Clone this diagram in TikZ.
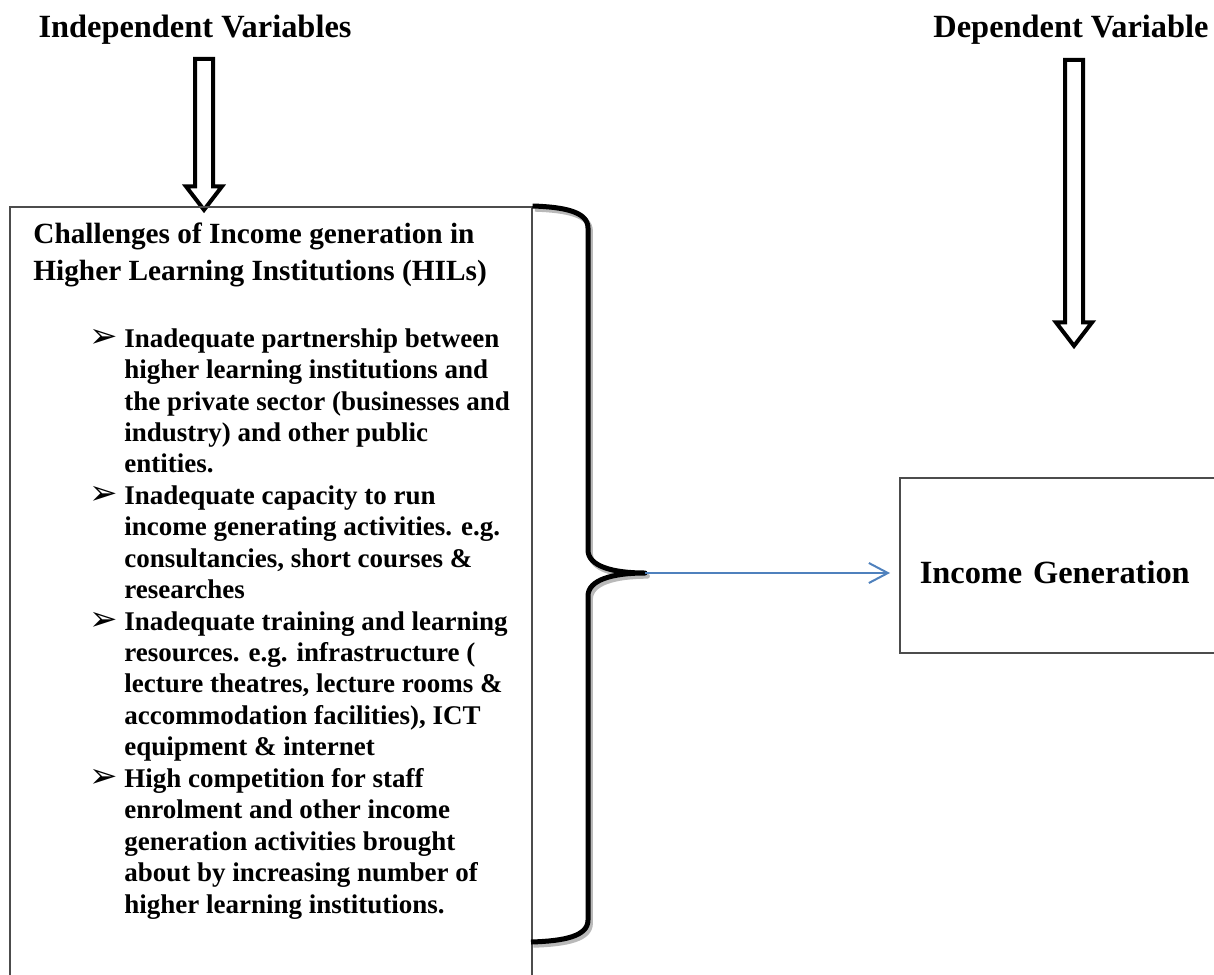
\documentclass[tikz,border=0pt]{standalone}
\usepackage{fontspec}
\setmainfont{Liberation Serif}
\newfontfamily\symfont{DejaVu Sans}
\usetikzlibrary{shapes.arrows,arrows.meta,positioning}
\definecolor{linkblue}{RGB}{79,129,189}
\newcommand{\bul}{\makebox[15.5pt][l]{\hspace*{-2pt}\symfont\fontsize{17}{15.72}\selectfont ➢}}
\newcommand{\ind}{\hspace*{15.5pt}}

\begin{document}
\begin{tikzpicture}[x=0.5pt,y=-0.5pt,
    heading/.style={font=\fontsize{16.2}{19}\selectfont\bfseries, inner sep=0pt},
    bigarrow/.style={single arrow, draw, line width=2pt, rotate=-90, inner xsep=0pt, inner ysep=3.5pt, text height=0pt, text depth=0pt, single arrow head extend=4.5pt, single arrow tip angle=75},
    varbox/.style={draw=black!70, line width=0.75pt, inner sep=0pt},
    boxtext/.style={anchor=north west, inner sep=0pt, align=left},
    brace/.style={line width=2.5pt, line join=round},
    link/.style={draw=linkblue, line width=1pt, -{Straight Barb[length=9.5pt,width=10pt]}}
]
\useasboundingbox (0,0) rectangle (1214,974);
\clip (0,0) rectangle (1214,974);

% Headings
\node[heading, anchor=base] (indep) at (195,38) {Independent Variables};
\node[heading, anchor=base] (dep) at (1071,38) {Dependent Variable};

% Hollow arrows
\node[bigarrow, minimum height=75.5pt] (indeparrow) at (204,128.5) {};
\node[bigarrow, minimum height=143pt] (deparrow) at (1074,197) {};

% Challenges box
\node[varbox, anchor=north west, minimum width=261pt, minimum height=400pt] (chbox) at (9,206) {};
\node[boxtext, font=\fontsize{14.65}{18.5}\selectfont\bfseries] (chtitle) at (33,222)
  {Challenges of Income generation in\\Higher Learning Institutions (HILs)};
\node[boxtext, font=\fontsize{13.5}{15.72}\selectfont\bfseries] (chlist) at (93,328) {%
\bul Inadequate partnership between\\
\ind higher learning institutions and\\
\ind the private sector (businesses and\\
\ind industry) and other public\\
\ind entities.\\
\bul Inadequate capacity to run\\
\ind income generating activities. e.g.\\
\ind consultancies, short courses \&\\
\ind researches\\
\bul Inadequate training and learning\\
\ind resources. e.g. infrastructure (\\
\ind lecture theatres, lecture rooms \&\\
\ind accommodation facilities), ICT\\
\ind equipment \& internet\\
\bul High competition for staff\\
\ind enrolment and other income\\
\ind generation activities brought\\
\ind about by increasing number of\\
\ind higher learning institutions.};

% Income box
\node[varbox, anchor=north west, minimum width=200pt, minimum height=87.5pt, text width=180pt, inner xsep=10pt, align=left, font=\fontsize{16.2}{19}\selectfont\bfseries, text height=18.5pt] (income) at (899,477) {Income Generation};

% Brace
\coordinate (tip) at (645,573);
\coordinate (braceend) at (531,942);
\foreach \col/\dx/\dy in {gray!55/1.2pt/-1.6pt, black/0pt/0pt}
  \draw[brace, draw=\col, transform canvas={xshift=\dx, yshift=\dy}] (chbox.north east)
    .. controls (565,207) and (588,212) .. (588,228) -- (588,550)
    .. controls (588,566) and (612,573) .. (tip)
    .. controls (612,573) and (588,580) .. (588,596) -- (588,920)
    .. controls (588,936) and (565,941) .. (braceend);

% Link
\draw[link, shorten >=4.5pt] (tip) -- (tip -| income.west);

\end{tikzpicture}
\end{document}
